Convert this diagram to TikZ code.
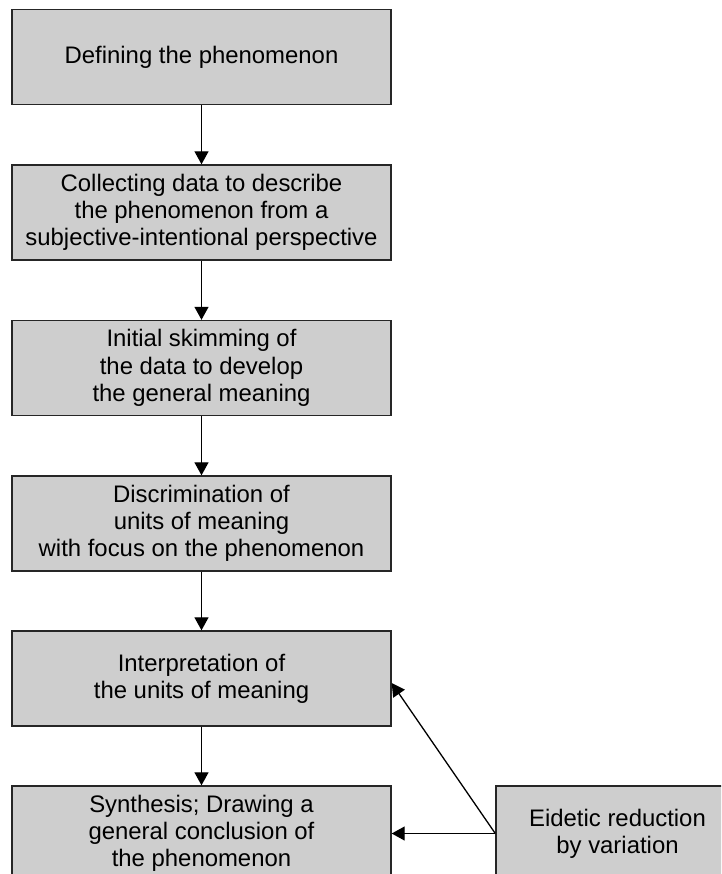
\documentclass[tikz,border=0pt]{standalone}
\usepackage{fontspec}
\setmainfont{Liberation Sans}
\usetikzlibrary{arrows.meta}
\definecolor{boxgray}{RGB}{206,206,206}
\tikzset{
  stepbox/.style={draw=black!85, line width=1.4pt, fill=boxgray, align=center,
    minimum width=379pt, minimum height=95pt, inner sep=0pt,
    font=\fontsize{23.9}{27.2}\selectfont},
  flow/.style={-{Triangle[width=14pt,length=13pt]}, line width=1.3pt}
}
\begin{document}
\begin{tikzpicture}[x=1pt, y=-1pt]
    \path[use as bounding box, clip] (0,0) rectangle (721,874);
    \node[stepbox] (define) at (201.5,57) {Defining the phenomenon};
    \node[stepbox] (collect) at (201.5,212.5) {Collecting data to describe\\the phenomenon from a\\subjective-intentional perspective};
    \node[stepbox] (skim) at (201.5,368) {Initial skimming of\\the data to develop\\the general meaning};
    \node[stepbox] (units) at (201.5,523.5) {Discrimination of\\units of meaning\\with focus on the phenomenon};
    \node[stepbox] (interp) at (201.5,678.5) {Interpretation of\\the units of meaning};
    \node[stepbox] (synth) at (201.5,833.5) {Synthesis; Drawing a\\general conclusion of\\the phenomenon};
    \node[stepbox, minimum width=243pt] (eidetic) at (617.5,833.5) {Eidetic reduction\\by variation};
    \draw[flow] (define) -- (collect);
    \draw[flow] (collect) -- (skim);
    \draw[flow] (skim) -- (units);
    \draw[flow] (units) -- (interp);
    \draw[flow] (interp) -- (synth);
    \draw[flow] (eidetic.west) -- (synth.east);
    \draw[flow] (eidetic.west) -- ([yshift=-4.5pt]interp.east);
\end{tikzpicture}
\end{document}
